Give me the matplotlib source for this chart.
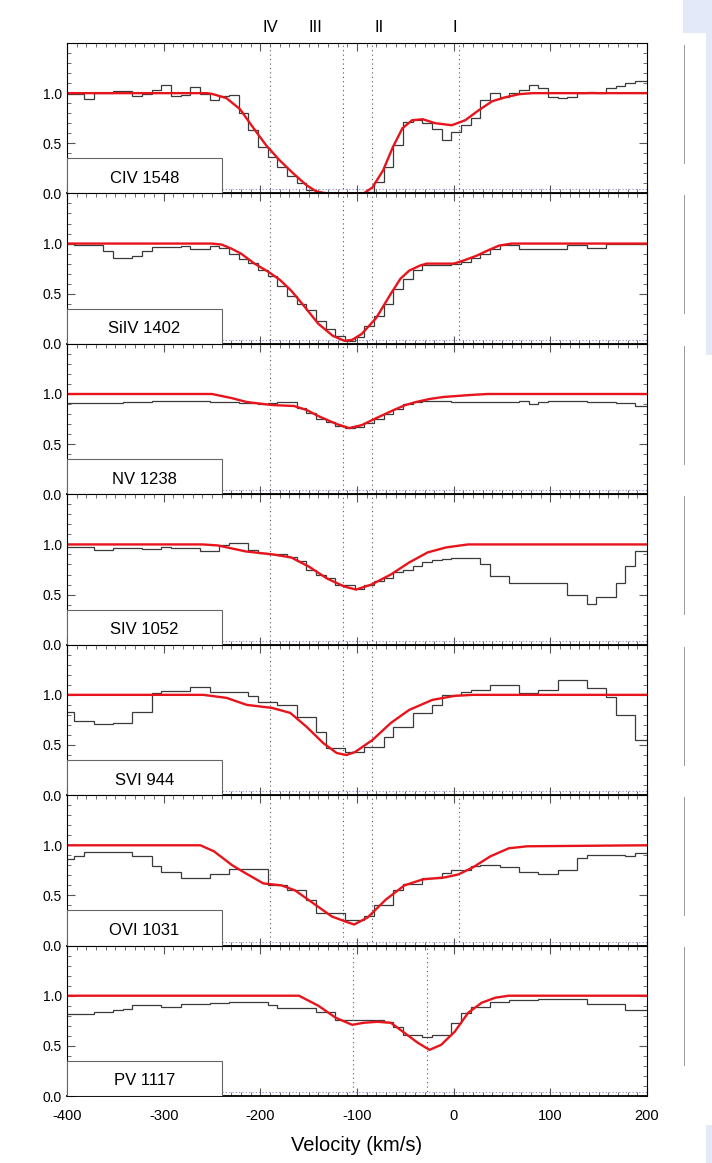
import numpy as np
import matplotlib.pyplot as plt
from matplotlib.ticker import MultipleLocator
from matplotlib.patches import Rectangle
from matplotlib.lines import Line2D

plt.rcParams['font.family'] = ['Liberation Sans', 'DejaVu Sans']

# velocity bin edges (km/s); the bins sit a little off the round numbers
edges = np.arange(-402.5, 208, 10)

ions = ['CIV 1548', 'SiIV 1402', 'NV 1238', 'SIV 1052', 'SVI 944', 'OVI 1031', 'PV 1117']

# observed normalised flux, one value per 10 km/s bin
civ_flux = [0.99, 0.99, 0.94, 1.00, 1.00, 1.02, 1.02, 0.97, 0.99, 1.03,
            1.08, 0.97, 0.98, 1.06, 0.99, 0.93, 0.97, 0.98, 0.80, 0.63,
            0.46, 0.36, 0.26, 0.17, 0.10, 0.03, 0.01, 0.00, 0.00, 0.00,
            0.00, 0.01, 0.11, 0.26, 0.48, 0.71, 0.73, 0.70, 0.64, 0.53,
            0.61, 0.68, 0.75, 0.93, 1.00, 0.96, 1.00, 1.03, 1.08, 1.05,
            0.96, 0.95, 0.96, 1.00, 1.01, 1.00, 1.05, 1.07, 1.10, 1.12, 1.12]
siiv_flux = [1.00, 0.99, 0.99, 0.99, 0.93, 0.86, 0.86, 0.88, 0.93, 0.97,
             0.97, 0.97, 0.98, 0.95, 0.95, 0.98, 0.96, 0.90, 0.85, 0.81,
             0.74, 0.68, 0.58, 0.48, 0.40, 0.34, 0.23, 0.15, 0.08, 0.03,
             0.07, 0.18, 0.28, 0.40, 0.55, 0.65, 0.74, 0.79, 0.79, 0.79,
             0.80, 0.82, 0.86, 0.90, 0.95, 0.99, 0.99, 0.95, 0.95, 0.95,
             0.95, 0.95, 0.99, 0.99, 0.96, 0.96, 1.00, 1.00, 1.00, 1.00, 1.00]
nv_flux = [0.91, 0.91, 0.91, 0.91, 0.91, 0.91, 0.92, 0.92, 0.92, 0.93,
           0.93, 0.93, 0.93, 0.93, 0.93, 0.92, 0.92, 0.92, 0.91, 0.91,
           0.90, 0.91, 0.92, 0.92, 0.86, 0.81, 0.75, 0.72, 0.68, 0.66,
           0.67, 0.71, 0.75, 0.80, 0.85, 0.90, 0.92, 0.93, 0.93, 0.93,
           0.92, 0.92, 0.92, 0.92, 0.92, 0.92, 0.92, 0.93, 0.90, 0.92,
           0.93, 0.93, 0.93, 0.93, 0.92, 0.92, 0.92, 0.91, 0.91, 0.88, 0.88]
siv_flux = [0.97, 0.97, 0.97, 0.94, 0.94, 0.96, 0.96, 0.96, 0.95, 0.95,
            0.97, 0.96, 0.96, 0.96, 0.93, 0.93, 0.99, 1.01, 1.01, 0.94,
            0.91, 0.90, 0.90, 0.87, 0.83, 0.75, 0.70, 0.67, 0.60, 0.60,
            0.56, 0.60, 0.64, 0.67, 0.73, 0.75, 0.78, 0.82, 0.84, 0.85,
            0.86, 0.86, 0.86, 0.80, 0.69, 0.69, 0.62, 0.62, 0.62, 0.62,
            0.62, 0.62, 0.50, 0.50, 0.41, 0.48, 0.48, 0.62, 0.78, 0.93, 0.93]
svi_flux = [0.83, 0.74, 0.74, 0.71, 0.71, 0.72, 0.72, 0.83, 0.83, 1.02,
            1.04, 1.04, 1.04, 1.08, 1.08, 1.03, 1.03, 1.03, 1.03, 0.99,
            0.93, 0.93, 0.90, 0.90, 0.78, 0.78, 0.63, 0.47, 0.47, 0.43,
            0.43, 0.48, 0.48, 0.58, 0.68, 0.68, 0.82, 0.82, 0.90, 1.00,
            1.00, 1.03, 1.05, 1.05, 1.10, 1.10, 1.10, 1.02, 1.02, 1.05,
            1.05, 1.15, 1.15, 1.15, 1.07, 1.07, 0.98, 0.80, 0.80, 0.55, 0.55]
ovi_flux = [0.86, 0.89, 0.93, 0.93, 0.93, 0.93, 0.93, 0.89, 0.89, 0.79,
            0.73, 0.73, 0.67, 0.67, 0.67, 0.71, 0.71, 0.76, 0.76, 0.76,
            0.76, 0.60, 0.60, 0.55, 0.55, 0.45, 0.32, 0.32, 0.32, 0.25,
            0.25, 0.29, 0.40, 0.40, 0.55, 0.61, 0.61, 0.67, 0.67, 0.72,
            0.75, 0.75, 0.79, 0.80, 0.80, 0.78, 0.78, 0.73, 0.73, 0.71,
            0.71, 0.75, 0.75, 0.87, 0.90, 0.90, 0.90, 0.90, 0.89, 0.92, 0.92]
pv_flux = [0.82, 0.82, 0.82, 0.84, 0.84, 0.86, 0.87, 0.91, 0.91, 0.91,
           0.89, 0.89, 0.92, 0.92, 0.92, 0.93, 0.93, 0.94, 0.94, 0.94,
           0.94, 0.91, 0.88, 0.88, 0.88, 0.88, 0.84, 0.84, 0.76, 0.76,
           0.76, 0.76, 0.76, 0.74, 0.69, 0.61, 0.61, 0.59, 0.61, 0.61,
           0.73, 0.83, 0.89, 0.89, 0.94, 0.94, 0.96, 0.96, 0.96, 0.97,
           0.97, 0.97, 0.97, 0.97, 0.92, 0.92, 0.92, 0.92, 0.86, 0.86, 0.86]

# model fits (velocity, flux)
civ_fit_v = [-400, -255, -249, -235, -221, -207, -194, -180, -166, -152, -142, -132,
             -93, -84, -73, -63, -53, -43, -32, -19, -2, 12, 26, 40, 54, 68, 82, 200]
civ_fit_f = [1.0, 1.0, 0.99, 0.95, 0.84, 0.65, 0.48, 0.33, 0.20, 0.08, 0.02, 0.0,
             0.0, 0.06, 0.23, 0.46, 0.65, 0.73, 0.74, 0.70, 0.68, 0.73, 0.83, 0.92, 0.96, 0.99, 1.0, 1.0]
siiv_fit_v = [-400, -250, -240, -230, -220, -206, -192, -180, -168, -155, -140, -125, -113,
              -105, -95, -80, -65, -55, -46, -35, -28, 0, 10, 24, 35, 47, 60, 200]
siiv_fit_f = [1.0, 1.0, 0.99, 0.95, 0.90, 0.80, 0.72, 0.64, 0.53, 0.38, 0.20, 0.08, 0.03,
              0.04, 0.10, 0.26, 0.50, 0.65, 0.73, 0.78, 0.80, 0.80, 0.83, 0.88, 0.93, 0.98, 1.0, 1.0]
nv_fit_v = [-400, -250, -230, -214, -188, -165, -152, -140, -121, -108, -95, -80, -62,
            -50, -39, -25, -11, 17, 35, 200]
nv_fit_f = [1.0, 1.0, 0.96, 0.92, 0.89, 0.88, 0.84, 0.78, 0.70, 0.66, 0.69, 0.76, 0.84,
            0.89, 0.92, 0.95, 0.97, 0.99, 1.0, 1.0]
siv_fit_v = [-400, -260, -244, -215, -187, -168, -150, -131, -113, -101, -85, -65, -46,
             -27, -8, 15, 200]
siv_fit_f = [1.0, 1.0, 0.99, 0.93, 0.90, 0.87, 0.78, 0.66, 0.58, 0.55, 0.60, 0.70, 0.82,
             0.92, 0.97, 1.0, 1.0]
svi_fit_v = [-400, -259, -235, -214, -188, -169, -152, -135, -121, -111, -102, -84, -65,
             -46, -22, 1, 20, 200]
svi_fit_f = [1.0, 1.0, 0.97, 0.90, 0.87, 0.82, 0.68, 0.52, 0.42, 0.40, 0.43, 0.55, 0.72,
             0.85, 0.95, 0.99, 1.0, 1.0]
ovi_fit_v = [-400, -262, -248, -229, -215, -197, -178, -164, -145, -126, -112, -103, -89,
             -70, -51, -32, -9, 5, 20, 38, 57, 76, 200]
ovi_fit_f = [1.0, 1.0, 0.94, 0.80, 0.72, 0.62, 0.60, 0.55, 0.42, 0.29, 0.24, 0.21, 0.28,
             0.46, 0.60, 0.66, 0.68, 0.71, 0.78, 0.89, 0.97, 0.99, 1.0]
pv_fit_v = [-400, -160, -140, -122, -105, -93, -79, -65, -51, -37, -25, -13, 1, 15, 29,
            43, 57, 200]
pv_fit_f = [1.0, 1.0, 0.90, 0.78, 0.71, 0.73, 0.74, 0.73, 0.63, 0.53, 0.46, 0.51, 0.64,
            0.83, 0.93, 0.98, 1.0, 1.0]

fluxes = [civ_flux, siiv_flux, nv_flux, siv_flux, svi_flux, ovi_flux, pv_flux]
fits = [(civ_fit_v, civ_fit_f), (siiv_fit_v, siiv_fit_f), (nv_fit_v, nv_fit_f),
        (siv_fit_v, siv_fit_f), (svi_fit_v, svi_fit_f), (ovi_fit_v, ovi_fit_f),
        (pv_fit_v, pv_fit_f)]

# kinematic components
comp_names = ['IV', 'III', 'II', 'I']
comp_label_v = [-190, -143, -77, 1]
comp_lines = [[-190, -115, -85, 5], [-190, -115, -85, 5], [-190, -115, -85],
              [-190, -115, -85], [-190, -115, -85], [-190, -115, -85, 5], [-104, -28]]

fig = plt.figure(figsize=(7.12, 11.63), dpi=100)
left, right = 67 / 712, 647 / 712
top, bottom = 1 - 43 / 1163, 1 - 1096 / 1163
ph = (top - bottom) / 7

axes = []
for i in range(7):
    ax = fig.add_axes([left, top - (i + 1) * ph, right - left, ph])
    axes.append(ax)
    for v in comp_lines[i]:
        ax.axvline(v, color='#555555', lw=0.8, ls=(0, (1, 3)))
    ax.plot([-240, 200], [0.04, 0.04], color='#5a5ad0', lw=0.8, ls=(0, (1, 2)), alpha=0.7)
    ax.stairs(fluxes[i], edges, color='#3a3a3a', lw=0.9)
    ax.plot(fits[i][0], fits[i][1], color='#e8141c', lw=1.7)
    ax.add_patch(Rectangle((-400, 0), 160, 0.35, facecolor='white', edgecolor='#666666',
                           lw=0.8, zorder=5))
    ax.text(-320, 0.15, ions[i], ha='center', va='center', fontsize=12, zorder=6)
    ax.set_xlim(-400, 200)
    ax.set_ylim(0, 1.5)
    ax.set_yticks([0, 0.5, 1.0])
    ax.set_yticklabels(['0.0', '0.5', '1.0'], fontsize=10)
    ax.xaxis.set_major_locator(MultipleLocator(100))
    ax.xaxis.set_minor_locator(MultipleLocator(10))
    ax.yaxis.set_minor_locator(MultipleLocator(0.1))
    ax.tick_params(which='both', direction='in', top=True, right=True, color='#555555')
    ax.tick_params(which='major', length=6, width=0.8)
    ax.tick_params(which='minor', length=3, width=0.6)
    for s in ax.spines.values():
        s.set_linewidth(0.8)
    ax.spines['bottom'].set_linewidth(1.3)
    if i < 6:
        ax.set_xticklabels([])
    else:
        ax.set_xticks([-400, -300, -200, -100, 0, 100, 200])
        ax.set_xticklabels(['-400', '-300', '-200', '-100', '0', '100', '200'], fontsize=10.5)
        ax.tick_params(axis='x', which='major', pad=9)
        ax.set_xlabel('Velocity (km/s)', fontsize=14.5, labelpad=10)

for name, v in zip(comp_names, comp_label_v):
    axes[0].text(v, 1.05, name, transform=axes[0].get_xaxis_transform(),
                 ha='center', va='bottom', fontsize=12)

# fragments of the neighbouring figure at the right edge
fig.add_artist(Rectangle((683 / 712, 1 - 33 / 1163), 29 / 712, 33 / 1163,
                         transform=fig.transFigure, facecolor='#e3e9f8', edgecolor='none'))
fig.add_artist(Rectangle((706 / 712, 1 - 355 / 1163), 6 / 712, 322 / 1163,
                         transform=fig.transFigure, facecolor='#e3e9f8', edgecolor='none'))
fig.add_artist(Rectangle((706 / 712, 0), 6 / 712, 38 / 1163,
                         transform=fig.transFigure, facecolor='#e3e9f8', edgecolor='none'))
for i in range(7):
    y0 = 45 + i * 150.4
    fig.add_artist(Line2D([684 / 712, 684 / 712], [1 - y0 / 1163, 1 - (y0 + 118) / 1163],
                          transform=fig.transFigure, color='#999999', lw=0.7))

fig.savefig('out.png', dpi=100)
